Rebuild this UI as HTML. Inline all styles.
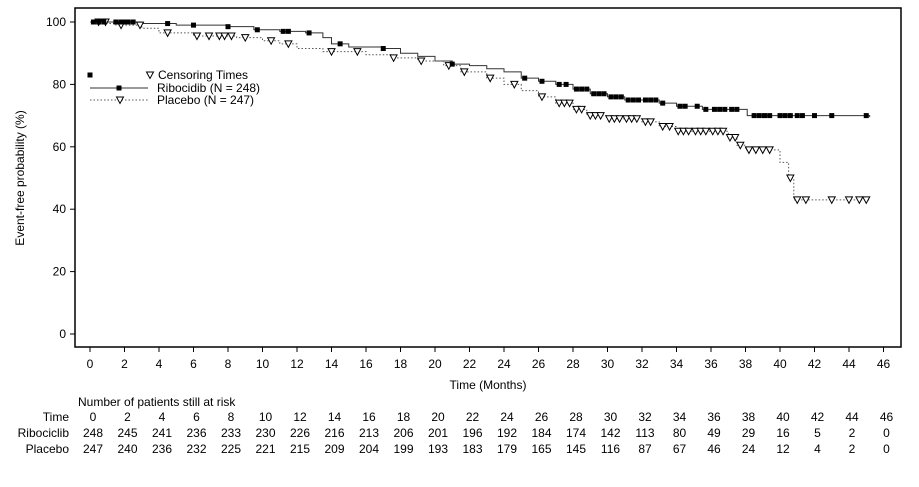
<!DOCTYPE html>
<html><head><meta charset="utf-8">
<style>
html,body{margin:0;padding:0;background:#fff;}
svg{display:block;font-family:"Liberation Sans",Arial,sans-serif;}
</style></head>
<body>
<svg id="chart" width="919" height="487" viewBox="0 0 919 487"></svg>
<script>
const xTicks=[0,2,4,6,8,10,12,14,16,18,20,22,24,26,28,30,32,34,36,38,40,42,44,46];
const yTicks=[0,20,40,60,80,100];
const riboTimes=[0,3,5,8,9.5,11,12.5,13.5,14,15,17,18,19,20,21,22,23,24,25,26,27,28,29,30,31,33,34,35.5,38.1,45.2];
const riboSurv=[100,99.5,99,98.5,97.5,97,96.5,95,93,92,91.5,90,89,87.5,86.5,86,85,84,82,81,80,78.5,77,76,75,74,73,72,70,69.5];
const placTimes=[0,1,1.5,3,4,6,8.5,10,11,12,13.5,16,17.5,19,20.5,21.5,23,24,25,26,27,28,28.8,30,32,33,34,37,37.5,38,40,40.5,40.8,45.2];
const placSurv=[100,99.5,99,98,96.5,95.5,95,94,93,91.5,90.5,89.5,88.5,87.5,86,84,82,80,78,76,74,72,70,69,68,66.5,65,63,60.5,59,55,50,43,43];
const riboCensor=[0.2,0.5,0.8,1.5,1.8,2,2.2,2.5,4.5,6,8,9.7,11.2,11.5,12.7,14.5,17,21,25.2,26.2,27.2,27.6,28.2,28.5,28.8,29.2,29.5,29.8,30.2,30.5,30.8,31.2,31.5,31.8,32.2,32.5,32.8,33.2,34.2,34.5,35.2,35.7,36.2,36.5,36.8,37.2,37.5,38.5,38.8,39.1,39.4,40,40.3,40.6,41,41.3,42,43,45];
const placCensor=[0.5,0.9,1.8,2.9,4.5,6.2,6.9,7.5,7.8,8.2,9,10.5,11.5,14,15.5,17.6,19.2,20.8,21.7,23.2,24.6,26.2,27.2,27.5,27.8,28.2,28.5,29,29.3,29.6,30.1,30.4,30.7,31.1,31.4,31.7,32.2,32.5,33.2,33.6,34.1,34.4,34.7,35.1,35.4,35.7,36.1,36.4,36.7,37.1,37.4,37.7,38.2,38.6,39,39.4,40.6,41,41.5,43,44,44.6,45];
const riboRisk=[248,245,241,236,233,230,226,216,213,206,201,196,192,184,174,142,113,80,49,29,16,5,2,0];
const placRisk=[247,240,236,232,225,221,215,209,204,199,193,183,179,165,145,116,87,67,46,24,12,4,2,0];

const NS="http://www.w3.org/2000/svg";
const svg=document.getElementById('chart');
const X=t=>90+t*17.25;
const Y=v=>334-v*3.12;
function mk(tag,attrs,parent){const e=document.createElementNS(NS,tag);for(const k in attrs)e.setAttribute(k,attrs[k]);(parent||svg).appendChild(e);return e;}
function txt(s,x,y,anchor,size,parent){const e=mk('text',{x:x,y:y,'text-anchor':anchor||'middle','font-size':size||12,fill:'#000'},parent);e.textContent=s;return e;}
function stepAt(times,surv,t){let v=surv[0];for(let i=0;i<times.length;i++){if(times[i]<=t)v=surv[i];}return v;}

const frame=mk('rect',{x:75,y:8,width:826,height:339,fill:'none',stroke:'#000','stroke-width':1.5});



yTicks.forEach(v=>{
  const l=mk('line',{x1:70,x2:75,y1:Y(v),y2:Y(v),stroke:'#000'});
  
  
  const t=txt(String(v),66,Y(v)+4,'end',12);
  
  
});
xTicks.forEach(v=>{
  const l=mk('line',{x1:X(v),x2:X(v),y1:347,y2:352,stroke:'#000'});
  
  
  const t=txt(String(v),X(v),368,'middle',12);
  
  
});
const xt=txt('Time (Months)',488,389,'middle',12);


const yt=txt('Event-free probability (%)',0,0,'middle',12);
yt.setAttribute('transform','translate(24,178) rotate(-90)');



function stepPath(times,surv){let d='M'+X(times[0])+','+Y(surv[0]);for(let i=1;i<times.length;i++){d+=' H'+X(times[i])+' V'+Y(surv[i]);}return d;}
const rp=mk('path',{d:stepPath(riboTimes,riboSurv),fill:'none',stroke:'#333','stroke-width':1});


const pp=mk('path',{d:stepPath(placTimes,placSurv),fill:'none',stroke:'#555','stroke-width':1,'stroke-dasharray':'1.5,2'});



function square(x,y,name){const r=mk('rect',{x:x-2.5,y:y-2.5,width:5,height:5,fill:'#000'});return r;}
function tri(x,y,name){const p=mk('path',{d:`M${x-3.5},${y-3} L${x+3.5},${y-3} L${x},${y+3.5} Z`,fill:'#fff',stroke:'#000','stroke-width':1});return p;}
placCensor.forEach(t=>tri(X(t),Y(stepAt(placTimes,placSurv,t)),'placebo-censor'));
riboCensor.forEach(t=>square(X(t),Y(stepAt(riboTimes,riboSurv,t)),'ribociclib-censor'));

const lg=mk('g',{});


square(90,75,'legend-censor-square');
tri(150,75,'legend-censor-triangle');
txt('Censoring Times',158,79,'start',12,lg);
mk('line',{x1:90,x2:148,y1:88,y2:88,stroke:'#333'},lg);
square(119,88,'legend-ribociclib-marker');
txt('Ribocidib (N = 248)',157,92,'start',12,lg);
mk('line',{x1:90,x2:148,y1:100,y2:100,stroke:'#555','stroke-dasharray':'1.5,2'},lg);
tri(120,100,'legend-placebo-marker');
txt('Placebo (N = 247)',157,104,'start',12,lg);

const rt=mk('g',{});


txt('Number of patients still at risk',78,406,'start',12,rt);
txt('Time',69,421,'end',12,rt);
txt('Ribociclib',69,437,'end',12,rt);
txt('Placebo',69,453,'end',12,rt);
xTicks.forEach((v,i)=>{
  txt(String(v),X(v)+3,421,'middle',12,rt);
  txt(String(riboRisk[i]),X(v)+3,437,'middle',12,rt);
  txt(String(placRisk[i]),X(v)+3,453,'middle',12,rt);
});
</script>
</body></html>
